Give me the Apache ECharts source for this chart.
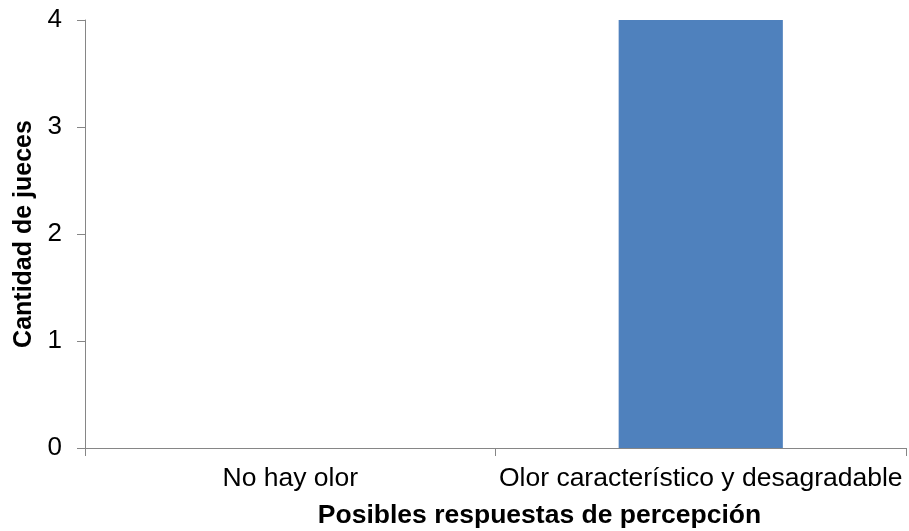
<!DOCTYPE html>
<html>
<head>
<meta charset="utf-8">
<script src="https://cdn.jsdelivr.net/npm/echarts@6/dist/echarts.min.js"></script>
<style>
  html, body { margin: 0; padding: 0; background: #ffffff; }
  #chart { width: 909px; height: 531px; }
</style>
</head>
<body>
<div id="chart"></div>
<script>
// Respuestas de percepción de olor y número de jueces por respuesta
const categories = ['No hay olor', 'Olor característico y desagradable'];
const judgeCounts = [0, 4];
const yTicks = [0, 1, 2, 3, 4];

const axisGrey = '#868686';
const fontFamily = 'Arial, "Liberation Sans", sans-serif';

const chart = echarts.init(document.getElementById('chart'), null, { renderer: 'canvas' });

chart.setOption({
  animation: false,
  backgroundColor: '#ffffff',
  grid: { left: 85, right: 3, top: 20, bottom: 83, containLabel: false, outerBoundsMode: 'none' },
  xAxis: {
    type: 'category',
    data: categories,
    name: 'Posibles respuestas de percepción',
    nameLocation: 'middle',
    nameGap: 54,
    nameTextStyle: {
      fontFamily, fontSize: 26.5, fontWeight: 'bold', color: '#000000',
      padding: [0, 0, 0, 88]
    },
    axisLine: { show: true, lineStyle: { color: axisGrey, width: 1 } },
    axisTick: { show: true, length: 8, lineStyle: { color: axisGrey } },
    axisLabel: { fontFamily, fontSize: 26.5, color: '#000000', margin: 17, interval: 0, hideOverlap: false },
    splitLine: { show: false }
  },
  yAxis: {
    type: 'value',
    min: yTicks[0],
    max: yTicks[yTicks.length - 1],
    interval: 1,
    name: 'Cantidad de jueces',
    nameLocation: 'middle',
    nameGap: 45,
    nameRotate: 90,
    nameTextStyle: { fontFamily, fontSize: 25, fontWeight: 'bold', color: '#000000' },
    axisLine: { show: true, lineStyle: { color: axisGrey, width: 1 } },
    axisTick: { show: true, length: 8, lineStyle: { color: axisGrey } },
    axisLabel: { fontFamily, fontSize: 26, color: '#000000', margin: 23 },
    splitLine: { show: false }
  },
  series: [{
    type: 'bar',
    data: judgeCounts,
    barCategoryGap: '60%',
    itemStyle: { color: '#4F81BD' }
  }]
});
</script>
</body>
</html>
